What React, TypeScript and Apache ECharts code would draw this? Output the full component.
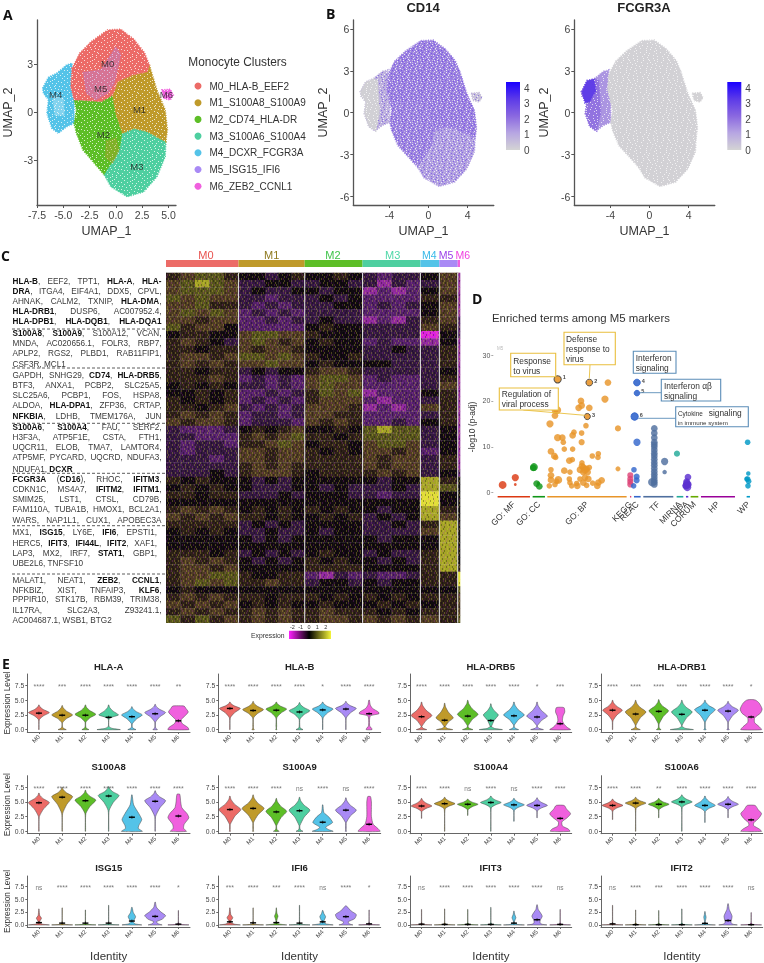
import React, { useEffect, useRef } from "react";
import * as echarts from "echarts";

const FONT = "Liberation Sans";

// ---------- cluster identity ----------
const clusterShort = ["M0", "M1", "M2", "M3", "M4", "M5", "M6"];
const clusterNames = ["M0_HLA-B_EEF2", "M1_S100A8_S100A9", "M2_CD74_HLA-DR", "M3_S100A6_S100A4", "M4_DCXR_FCGR3A", "M5_ISG15_IFI6", "M6_ZEB2_CCNL1"];
const clusterColors = ["#EC6B67", "#BF9A2A", "#5DBE27", "#4ECFA0", "#54C3E8", "#A98AF5", "#F060DE"];

// ---------- UMAP regions (in UMAP units) ----------
const regionM0 = [[-4.16, 2.75], [-3.44, 3.69], [-2.34, 4.42], [-0.78, 5.15], [0.47, 5.19], [1.72, 4.56], [2.72, 3.73], [3.19, 2.96], [2.97, 2.54], [1.56, 2.33], [0.16, 1.92], [-0.31, 1.08], [-1.41, 0.67], [-3.28, 0.77], [-3.97, 0.77], [-4.28, 1.6]];
const regionM1 = [[-0.31, 1.08], [0.16, 1.92], [1.56, 2.33], [2.97, 2.54], [3.19, 2.96], [3.9, 1.4], [4.69, 0.15], [4.9, -1.1], [4.75, -1.83], [2.97, -1.2], [1.72, -1], [0.63, -1.31], [0, -0.06]];
const regionM2 = [[-3.97, 0.77], [-1.41, 0.67], [-0.31, 1.08], [0, -0.06], [0.63, -1.31], [0.4, -2.3], [0, -2.8], [-1.09, -3.92], [-2.03, -3.19], [-3.13, -2.35], [-3.75, -1.31], [-3.97, -0.69], [-3.75, 0.15]];
const regionM3 = [[4.75, -1.83], [2.97, -1.2], [1.72, -1], [0.63, -1.31], [0.4, -2.3], [0, -2.8], [-1.09, -3.92], [-0.47, -4.65], [1.09, -5.27], [2.66, -4.96], [3.9, -4.02], [4.69, -2.77]];
const regionM4 = [[-6.97, 1.5], [-6.41, 2.19], [-5.63, 2.44], [-4.69, 2.96], [-4.16, 3.06], [-4.28, 1.6], [-3.97, 0.77], [-3.97, -0.69], [-4.69, -0.9], [-5.47, -1.31], [-6.09, -1], [-6.56, -0.06], [-6.41, 0.77], [-6.88, 1.19]];
const regionM5 = [[-3.1, 2.5], [-1.4, 2.65], [0, 4.1], [0.47, 3.6], [-0.16, 1.8], [-0.78, 1.2], [-1.9, 0.77], [-2.8, 1.2]];
const regionM6 = [[4.38, 1.4], [5.16, 1.44], [5.47, 1.08], [5.16, 0.77], [4.53, 0.88]];
const regionM4Left = [[-6.97, 1.5], [-6.41, 2.19], [-5.63, 2.44], [-5.2, 2.3], [-5, 0], [-5.4, -1.3], [-6.09, -1], [-6.56, -0.06], [-6.41, 0.77], [-6.88, 1.19]];
const regionM4Hot = [[-6.9, 1.5], [-6.4, 2.3], [-5.7, 2.4], [-5.5, 1.6], [-6.1, 0.8], [-6.6, 0.7]];
const regionM4Sparse = [[-6, 1], [-5, 0.9], [-4.9, -0.2], [-5.8, -0.2]];
const regionM1InM2 = [[-0.9, -1.8], [0, -1.6], [0.3, -2.4], [-0.3, -3.2], [-1, -2.8]];
const regions = [regionM0, regionM1, regionM2, regionM3, regionM4, regionM5, regionM6];
const paintOrder = [4, 2, 3, 1, 0, 5, 6];
const clusterLabelPos = [[-0.78, 3.08], [2.25, 0.15], [-1.19, -1.38], [2, -3.4], [-5.72, 1.1], [-1.44, 1.46], [4.8, 1.1]];

// ---------- feature-plot mean levels ----------
const cd14Levels = [1.75, 1.75, 1.7, 1.25, 0.9, 1.75, 0.5];
const cd14M4Left = 0.1;
const fcgr3aLevels = [0.08, 0.08, 0.08, 0.08, 1.4, 0.08, 0.05];
const fcgr3aM4Left = 2;
const fcgr3aHot = 3.2;
const featureStops = [[0, "#d4d4d4"], [0.25, "#b7a6e2"], [0.5, "#8a68e0"], [0.75, "#5c3ae8"], [1, "#1a00ff"]];

// ---------- small hand-drawn speckle tiles (texture of dense dots, not data) ----------
const tileUmap = [
  "....w.......w.......", "..........w.......w.", ".w.....w............", "............w...w...", "....w...............",
  ".........w.....w....", "..w...........w....w", "......w...w.........", "...............w....", ".w.........w......w.",
  "....w..w............", "..............w.....", ".........w.......w..", "..w...............w.", ".......w....w.......",
  "w...............w...", "....w.......w.......", "..........w.....w...", "..w....w............", "..............w.....",
];
const tileFeature = [
  "g..w.d...w..g.w...d.", "..d....g.....d...w..", ".w..g.....w.g....g..", "....d..w.d.....w...d", "g.....g.....w.d..g..",
  "..w.d....g.d....w...", ".g.....w.....g...d.w", "...d.g...d.w....g...", "w.....w......d.w...g", "..g.d...g.w....g....",
  ".d....w.....d...w.d.", "....g...d.g...w.....", "w.d...w......g...g.d", "...g.....w.d....w...", ".d..w.d.g.....d...g.",
  "g.......w..g.w....d.", "..w.d.g....d.....w..", ".d.....w.g....g.d...", "...w.g.....d.w....g.", "g.d...d.w......d.w..",
];
const tileHeat = [
  "y..k...y.p....y.k..y...p.k..y....p..y.k.", ".k.y.p....k.y...p.y..k....y.p.k.....y..p", "...p.y.k.y....k..y...p.y.k....y.k.p...y.",
  "y.k....p..y.k.p....k.y....p.y...k..y.p..", ".p..y.k.....p.y.k.y..p.k.y....p...y..k.y", "..y.k..p.y.k...y....k.p..y.k.y..p....y.k",
  "k...y.p..k..y.p.k.y....y.p..k...y.k.p...", ".y.p..k.y...k....p.y.k...k.y..p.k..y...p", "..k.y....p.y.k.y...k..p.y...k.y..p...k.y",
  "p..y.k.y...p...k.y.p.k....y.p..y.k.y....", ".k...p.y.k..y.p....y...k.p..y.k...p.y.k.", "y.p.k...y.p..k.y.k..p.y...k..p.y.k...y.p",
];

// ---------- heatmap ----------
const clusterCells = [218, 199, 174, 174, 57, 55, 7];
const heatLevelColors = ["#e020e0", "#8f2a9c", "#54216a", "#331840", "#100a10", "#2d2018", "#4f3b24", "#55531c", "#a5a426", "#e2e038"];
const heatRows = [
  "56775 44345 4454 3233 4 6 1", "67876 33443 3443 3132 3 6 1", "67776 34334 4344 1212 4 6 1", "76766 33233 3434 2222 5 5 1",
  "66755 32323 3344 2323 4 6 1", "67676 23232 3333 2222 4 6 1", "66566 22323 3433 1213 5 6 2", "75664 22222 4544 3333 6 5 2",
  "45544 67766 5444 3333 0 4 2", "56543 67656 4544 2322 1 4 1", "55455 65665 4444 3343 3 5 1", "56656 77676 5445 3333 3 5 1",
  "56565 66766 4544 4433 3 5 1", "55455 34344 5665 3333 3 4 1", "55565 23232 6776 2322 3 5 1", "45454 33232 6766 2222 3 6 1",
  "44545 22323 5767 1222 4 5 1", "54545 23232 5666 2122 3 5 1", "55456 32323 6665 1212 6 5 1", "56565 23323 6655 2222 3 5 1",
  "65665 23332 6565 2232 4 5 1", "32223 45456 4454 7877 3 4 1", "33222 56567 5545 7777 3 4 1", "32332 55676 4554 6776 3 4 1",
  "32333 66566 5454 6656 2 4 1", "33323 66566 5555 6566 3 5 1", "33333 56565 5555 6566 3 5 1", "33343 56665 4555 5656 3 4 2",
  "54544 43434 4444 4344 8 5 4", "45454 43334 4343 3343 8 7 4", "55455 33343 4443 3233 9 4 4", "44444 44444 4444 4444 9 4 4",
  "56565 45454 5454 4344 8 5 4", "65656 55454 4545 3434 8 6 4", "55555 34343 4444 3343 5 8 4", "45454 33433 4344 3333 6 8 4",
  "44444 43434 4444 4344 4 8 4", "44444 44444 4444 4444 4 8 4", "55545 34343 4544 3433 5 8 4", "56565 43434 5454 4343 5 8 4",
  "56656 44444 5555 4444 5 8 5", "56677 54455 2132 3223 5 5 9", "56767 55655 3443 4344 5 5 9", "45444 44444 4444 4444 4 4 7",
  "56565 55455 5454 5454 5 5 6", "65656 45454 4544 4545 4 5 6", "56565 56565 5655 5454 5 5 6", "75756 56565 5665 6565 6 5 7",
];

// ---------- gene lists ([...] = bold) ----------
const geneLines = [
  "[HLA-B], EEF2, TPT1, [HLA-A], [HLA-]", "[DRA], ITGA4, EIF4A1, DDX5, CPVL,", "AHNAK, CALM2, TXNIP, [HLA-DMA],", "[HLA-DRB1], DUSP6, AC007952.4,", "[HLA-DPB1], [HLA-DQB1], [HLA-DQA1]",
  "[S100A8], [S100A9], S100A12, VCAN,", "MNDA, AC020656.1, FOLR3, RBP7,", "APLP2, RGS2, PLBD1, RAB11FIP1,", "CSF3R, MCL1",
  "GAPDH, SNHG29, [CD74], [HLA-DRB5],", "BTF3, ANXA1, PCBP2, SLC25A5,", "SLC25A6, PCBP1, FOS, HSPA8,", "ALDOA, [HLA-DPA1], ZFP36, CRTAP,", "[NFKBIA], LDHB, TMEM176A, JUN",
  "[S100A6], [S100A4], FAU, SERF2,", "H3F3A, ATP5F1E, CSTA, FTH1,", "UQCR11, ELOB, TMA7, LAMTOR4,", "ATP5MF, PYCARD, UQCRD, NDUFA3,", "NDUFA1, [DCXR]",
  "[FCGR3A] ([CD16]), RHOC, [IFITM3],", "CDKN1C, MS4A7, [IFITM2], [IFITM1],", "SMIM25, LST1, CTSL, CD79B,", "FAM110A, TUBA1B, HMOX1, BCL2A1,", "WARS, NAP1L1, CUX1, APOBEC3A",
  "MX1, [ISG15], LY6E, [IFI6], EPSTI1,", "HERC5, [IFIT3], [IFI44L], [IFIT2], XAF1,", "LAP3, MX2, IRF7, [STAT1], GBP1,", "UBE2L6, TNFSF10",
  "MALAT1, NEAT1, [ZEB2], [CCNL1],", "NFKBIZ, XIST, TNFAIP3, [KLF6],", "PPPIR10, STK17B, RBM39, TRIM38,", "IL17RA, SLC2A3, Z93241.1,", "AC004687.1, WSB1, BTG2",
];
const geneLineY = [281.3, 291.3, 301.7, 311.3, 321.7, 333.3, 343.3, 353.7, 364, 375, 385.3, 395.3, 405.3, 416, 427.3, 437.3, 447.7, 457.7, 469, 479, 489.3, 499.3, 509.3, 520.7, 532.7, 543, 553, 563.3, 580, 590, 599.7, 610, 620.7];
const geneNatural = ["CSF3R, MCL1", "NDUFA1, [DCXR]", "UBE2L6, TNFSF10", "AC004687.1, WSB1, BTG2"];
const geneDashY = [329, 368, 423.3, 473.3, 525.7, 574];

// ---------- enrichment (term position along source axis, -log10 p-adj, dot size) ----------
const sourceNames = ["GO: MF", "GO: CC", "GO: BP", "KEGG", "REAC", "TF", "MIRNA", "HPA", "CORUM", "HP", "WP"];
const sourceSpan = [[83, 180], [188, 225], [232, 470], [480, 484], [492, 512], [520, 610], [620, 640], [648, 655], [662, 685], [693, 795], [830, 840]];
const sourceLabelAt = [131, 206, 351, 482, 502, 565, 630, 651, 673, 744, 835];
const sourceColors = ["#dc3912", "#109618", "#e8952a", "#dd4477", "#3366cc", "#4f6f9f", "#22aa99", "#5b2fd0", "#66aa00", "#990099", "#0099c6"];
const termsMF = [[98, 1.7, 7], [136, 3.3, 6.5], [136, 1.8, 2.5]];
const termsCC = [[192, 5.6, 7], [190, 5.4, 6], [200, 2, 6], [208, 1.4, 6], [205, 2.1, 3]];
const termsBP = [[414, 24, 6], [405, 20.4, 6.5], [333, 20, 6], [335, 19, 6], [326, 18.5, 6], [358, 18.5, 6], [262, 18, 7], [255, 18, 6], [255, 16.8, 6], [240, 15, 6.5], [348, 14.6, 5], [444, 14, 5.5], [312, 13.2, 5], [308, 12.5, 6], [335, 13, 5], [263, 12, 6.5], [277, 12, 6], [280, 11, 5], [335, 11, 5.5], [283, 9.5, 5], [308, 9.5, 5], [243, 9, 6], [253, 8, 6], [257, 7.7, 5], [385, 8.5, 5], [384, 7.7, 5], [367, 8, 5], [298, 7, 6], [307, 7.2, 5], [336, 6.5, 5], [336, 5.8, 6], [340, 5.5, 6], [330, 5, 6], [345, 5, 7], [350, 5.2, 6], [358, 5.5, 5], [444, 5.2, 4.5], [243, 5, 5], [283, 4.8, 6], [300, 4.5, 5], [340, 4.5, 6], [353, 4.5, 6], [243, 3.8, 6], [243, 2.8, 6], [265, 2.8, 7], [260, 2.5, 5], [298, 3, 5], [330, 3, 5], [345, 3.3, 6], [355, 3, 6], [395, 2.7, 6], [300, 2.2, 5], [320, 2, 5], [340, 2.2, 6], [368, 2.1, 5], [385, 2.2, 6], [238, 1.5, 5], [255, 1.8, 5], [305, 1.5, 5], [322, 1.5, 6], [350, 1.6, 5], [382, 1.5, 6]];
const termsKEGG = [[481, 3.8, 5.5], [481, 3, 5.5], [481, 2.4, 5.5], [481, 1.8, 5.5]];
const termsREAC = [[501, 11, 6.5], [492, 5, 5], [500, 3.5, 5.5], [500, 2.7, 5.5], [491, 1.5, 5]];
const termsTF = [[553, 14, 6], [553, 13, 6], [553, 12, 6], [553, 11, 6], [553, 10.5, 6], [553, 10, 6], [553, 9.3, 6], [553, 8.6, 6], [553, 8, 6], [553, 7.3, 6], [553, 6.6, 6], [553, 6, 6], [553, 5.3, 6], [553, 4.6, 6], [553, 4, 6], [553, 3.4, 6], [553, 2.8, 6], [553, 2.3, 6], [547, 2.3, 7.5], [553, 1.8, 6], [584, 6.8, 6.5], [584, 4.5, 4]];
const termsMIRNA = [[621, 8.5, 5.5]];
const termsHPA = [[654, 3.4, 6], [651, 2, 7], [650, 1.6, 7], [652, 1.2, 7], [647, 1.5, 6], [655, 1.8, 6], [650, 2.4, 6]];
const termsWP = [[833, 11, 5], [835, 4.2, 4], [833, 3, 5], [836, 2.5, 5], [830, 3, 4.5], [834, 1.5, 5]];
const termsBySource = [termsMF, termsCC, termsBP, termsKEGG, termsREAC, termsTF, termsMIRNA, termsHPA, [], [], termsWP];
const ringedTerms = [[263, 24.7, 6.5, 2, "1"], [358, 24, 6, 2, "2"], [352, 16.6, 5.5, 2, "3"], [501, 24, 6, 4, "4"], [501, 21.7, 5, 4, "5"], [494, 16.6, 6.5, 4, "6"]];

// ---------- violins: profile rows are [expression, half width as share of half a band] ----------
const body = (peak: number, w: number, top: number, foot: number, neck: number, low = 0) => [
  ...(foot > 0 ? [[0, foot], [0.22, foot * 0.3], [0.55, 0.03]] : [[low, 0.015]]),
  [neck, 0.04], [neck + 0.55 * (peak - neck), w * 0.45], [peak, w],
  [peak + 0.4 * (top - peak), w * 0.42], [peak + 0.75 * (top - peak), w * 0.1], [top, 0.015],
];
const thin = (top: number) => [[0, 0.9], [0.12, 0.12], [0.4, 0.02], [top, 0.01]];

const hlaA = [body(2.9, 0.9, 4.2, 0, 1.7), body(2.5, 0.9, 4.1, 0.35, 1.2), body(2.6, 0.9, 4.2, 0.3, 1.3), body(2.5, 0.85, 4.2, 1, 1.8), body(2.5, 0.9, 3.9, 0.35, 1), body(2.9, 0.9, 4.3, 0.2, 1.3), [[0, 0.9], [0.4, 0.8], [1, 0.35], [1.6, 0.2], [2.2, 0.5], [3, 0.85], [3.6, 0.65], [4, 0.5], [4.05, 0.3]]];
const hlaB = [body(3.6, 0.9, 4.7, 0, 2), body(3.4, 0.9, 4.8, 0.1, 2), body(3.5, 0.9, 4.7, 0.05, 2), body(3.2, 0.9, 4.6, 0.3, 1.8), body(3.5, 0.9, 4.7, 0, 2), body(3.6, 0.9, 4.8, 0, 2), [[0, 0.25], [0.3, 0.2], [0.6, 0.05], [2.3, 0.1], [2.7, 0.85], [3, 0.8], [3.6, 0.3], [4.2, 0.1], [5, 0.03]]];
const hlaDrb5 = [body(2.4, 0.9, 4.7, 0.45, 0.6), body(2, 0.75, 4.5, 0.7, 0.5), body(2.6, 0.9, 5, 0.45, 0.7), body(2.5, 0.65, 4.4, 1, 0.5), body(2.5, 0.9, 4.7, 0.4, 0.8), body(2.3, 0.9, 4.7, 0.55, 0.7), [[0, 0.9], [0.4, 0.6], [0.9, 0.35], [1.5, 0.2], [2.3, 0.25], [3, 0.4], [3.7, 0.35], [3.8, 0.2]]];
const hlaDrb1 = [body(3.3, 0.85, 5, 0, 1.5), body(3, 0.9, 5, 0.4, 0.8), body(3.2, 0.85, 5.1, 0.2, 1), body(3, 0.9, 5, 1, 0.8), body(3.4, 0.9, 5, 0.1, 1.3), body(3.3, 0.9, 4.8, 0.1, 1.3), [[0, 0.9], [0.5, 0.7], [1.2, 0.3], [2, 0.3], [2.8, 0.8], [3.5, 0.95], [4.5, 0.7], [5, 0.4], [5.1, 0.15]]];
const s100a8 = [body(4.9, 0.9, 6.5, 0, 2.5), body(5.9, 0.9, 7.5, 0, 3), body(5.3, 0.9, 7, 0, 3), body(6.1, 0.9, 7.6, 0, 3.5), [[0, 0.9], [0.5, 0.55], [1, 0.6], [2, 0.85], [3, 0.6], [4.5, 0.15], [6.2, 0.02]], body(5.2, 0.9, 6.9, 0, 2.5), [[0, 0.7], [0.5, 0.45], [1.2, 0.5], [2.3, 0.9], [3, 0.75], [4, 0.3], [5, 0.2], [6.3, 0.12]]];
const s100a9 = [body(3.7, 0.95, 6, 0.05, 1.2), body(3.9, 0.95, 6.2, 0.05, 1.5), body(3.4, 0.9, 5.6, 0.25, 1), body(3.6, 0.9, 5.8, 0.3, 1), [[0, 0.9], [0.3, 0.5], [0.7, 0.25], [1.5, 0.85], [2.5, 0.5], [3.2, 0.1], [4.5, 0.02]], body(3.6, 0.9, 5.7, 0.05, 1.5), [[0, 0.95], [0.5, 0.75], [1.2, 0.35], [2.5, 0.2], [4, 0.2], [5, 0.2], [5.9, 0.12]]];
const s100a4 = [body(4.3, 0.9, 5.6, 0, 3.4, 2.2), body(4.7, 0.9, 5.8, 0, 3.8), body(4.6, 0.9, 5.5, 0, 3.7, 2.7), body(4.9, 0.9, 6, 0, 4), body(4.5, 0.9, 5.6, 0, 3.6, 1.7), body(4.4, 0.9, 5.7, 0, 3.5, 2.3), [[0, 0.85], [0.4, 0.7], [0.9, 0.2], [1.6, 0.15], [2.3, 0.6], [3, 0.9], [3.8, 0.55], [4.4, 0.35]]];
const s100a6 = [body(4.4, 0.9, 5.5, 0, 3.5, 2), body(4.8, 0.9, 5.8, 0, 3.9), body(4.6, 0.9, 5.6, 0, 3.7, 2.3), body(5, 0.9, 6.2, 0, 4.1), body(4.4, 0.9, 6, 0, 3.4, 1.5), body(4.6, 0.9, 5.9, 0, 3.7, 2.3), [[0, 0.9], [0.4, 0.7], [1, 0.2], [1.5, 0.25], [2.2, 0.65], [3, 0.9], [3.7, 0.6], [4.4, 0.35]]];
const isg15 = [[[0, 0.9], [0.15, 0.3], [0.4, 0.05], [0.8, 0.1], [1.3, 0.22], [1.8, 0.07], [3.1, 0.01]], thin(3.3), thin(2.9), thin(3.8), [[0, 0.85], [0.2, 0.3], [0.6, 0.1], [1, 0.2], [1.6, 0.32], [2.4, 0.12], [3.4, 0.02]], [[0, 0.6], [0.2, 0.3], [0.6, 0.1], [1.1, 0.6], [1.8, 0.9], [2.5, 0.5], [3.4, 0.12], [4.4, 0.02]], thin(2.8)];
const ifi6 = [[[0, 0.9], [0.15, 0.4], [0.5, 0.05], [0.9, 0.12], [1.4, 0.25], [2, 0.08], [3.3, 0.01]], thin(3.3), [[0, 0.9], [0.2, 0.2], [0.6, 0.03], [1.2, 0.08], [1.7, 0.15], [2.3, 0.05], [3.3, 0.01]], thin(3.8), [[0, 0.9], [0.2, 0.3], [0.6, 0.08], [1, 0.15], [1.6, 0.25], [2.2, 0.1], [2.8, 0.02]], [[0, 0.6], [0.2, 0.3], [0.6, 0.2], [1.2, 0.75], [2, 0.9], [2.7, 0.45], [3.7, 0.03]], thin(2.9)];
const ifit3 = [thin(3), thin(3.1), thin(3), thin(3.4), [[0, 0.9], [0.1, 0.3], [0.5, 0.03], [1, 0.1], [1.4, 0.17], [2, 0.07], [2.7, 0.01]], [[0, 0.85], [0.15, 0.4], [0.5, 0.25], [1, 0.3], [1.7, 0.45], [2.5, 0.25], [3, 0.1], [3.9, 0.02]], thin(3)];
const ifit2 = [thin(3.8), thin(2.9), thin(2.8), thin(3.1), [[0, 0.9], [0.1, 0.3], [0.5, 0.03], [1, 0.06], [1.5, 0.1], [2, 0.05], [2.6, 0.01]], [[0, 0.8], [0.15, 0.4], [0.5, 0.25], [1, 0.3], [1.7, 0.35], [2.5, 0.2], [3, 0.1], [4.1, 0.02]], thin(2.4)];

const violinGenes = ["HLA-A", "HLA-B", "HLA-DRB5", "HLA-DRB1", "S100A8", "S100A9", "S100A4", "S100A6", "ISG15", "IFI6", "IFIT3", "IFIT2"];
const violinProfiles = [hlaA, hlaB, hlaDrb5, hlaDrb1, s100a8, s100a9, s100a4, s100a6, isg15, ifi6, ifit3, ifit2];
const violinMedians = [
  [2.8, 2.45, 2.45, 2.1, 2.2, 2.7, 1.5], [3.6, 3.25, 3.3, 3, 3.35, 3.5, 2.7], [2.2, 1.6, 2.3, 1.55, 2.35, 2.15, 1], [3.3, 2.65, 3.1, 2.6, 3.3, 3.15, 2.15],
  [4.85, 5.8, 5.2, 6, 2.4, 5.1, 2.6], [3.7, 3.9, 3.3, 3.5, 1.55, 3.6, 1.2], [4.3, 4.7, 4.6, 4.9, 4.5, 4.4, 2.2], [4.4, 4.8, 4.6, 5, 4.4, 4.6, 1.95],
  [0.45, 0.35, 0.35, 0.35, 0.75, 1.65, 0.15], [0.6, 0.4, 0.45, 0.35, 0.6, 1.6, 0.2], [0.15, 0.1, 0.1, 0.1, 0.35, 1, 0.1], [0.2, 0.05, 0.05, 0.05, 0.3, 0.85, 0.05],
];
const violinSig = [
  ["****", "***", "****", "****", "****", "****", "**"], ["****", "****", "****", "****", "*", "****", "****"], ["****", "****", "****", "****", "****", "*", "***"], ["****", "****", "****", "****", "****", "****", "*"],
  ["****", "****", "****", "****", "****", "****", "****"], ["****", "****", "****", "ns", "****", "ns", "****"], ["****", "****", "ns", "****", "ns", "****", "****"], ["****", "****", "**", "****", "****", "****", "****"],
  ["ns", "****", "****", "****", "****", "****", "*"], ["***", "****", "***", "****", "ns", "****", "*"], ["ns", "****", "****", "****", "****", "****", "ns"], ["ns", "****", "***", "****", "****", "****", "ns"],
];

// ---------- helpers ----------
const hexRgb = (h: string) => [1, 3, 5].map((i) => parseInt(h.slice(i, i + 2), 16));
const featureColor = (level: number) => {
  const t = Math.max(0, Math.min(1, level / 4.4));
  for (let i = 1; i < featureStops.length; i++) {
    const [t1, c1] = featureStops[i] as [number, string];
    const [t0, c0] = featureStops[i - 1] as [number, string];
    if (t <= t1) {
      const f = (t - t0) / (t1 - t0);
      const a = hexRgb(c0), b = hexRgb(c1);
      return `rgb(${a.map((v, k) => Math.round(v + (b[k] - v) * f)).join(",")})`;
    }
  }
  return "#1a00ff";
};
const makeTile = (rows: string[], palette: Record<string, string>, cw: number, ch: number) => {
  const c = document.createElement("canvas");
  c.width = rows[0].length * cw;
  c.height = rows.length * ch;
  const g = c.getContext("2d")!;
  rows.forEach((r, y) => r.split("").forEach((s, x) => {
    if (palette[s]) {
      g.fillStyle = palette[s];
      g.fillRect(x * cw, y * ch, cw, ch);
    }
  }));
  return { image: c, repeat: "repeat" };
};

const App = () => {
  const ref = useRef<HTMLDivElement>(null);
  useEffect(() => {
    const chart = echarts.init(ref.current!, undefined, { renderer: "svg" });
    const patternUmap = makeTile(tileUmap, { w: "rgba(255,255,255,.75)" }, 1, 1);
    const patternCd14 = makeTile(tileFeature, { w: "rgba(255,255,255,.8)", g: "rgba(205,205,215,.8)", d: "rgba(80,45,225,.45)" }, 1, 1);
    const patternFcgr = makeTile(tileFeature, { w: "rgba(255,255,255,.7)" }, 1, 1);
    const patternHeat = makeTile(tileHeat, { y: "rgba(215,205,60,.3)", p: "rgba(200,50,210,.22)", k: "rgba(0,0,0,.3)" }, 1, 2);

    const grid: any[] = [], xAxis: any[] = [], yAxis: any[] = [], series: any[] = [], graphics: any[] = [];
    const addGrid = (l: number, t: number, w: number, h: number, x: any, y: any) => {
      grid.push({ left: l, top: t, width: w, height: h });
      const i = grid.length - 1;
      xAxis.push({ gridIndex: i, splitLine: { show: false }, ...x });
      yAxis.push({ gridIndex: i, splitLine: { show: false }, ...y });
      return i;
    };
    const hidden = (min: number, max: number, extra: any = {}) => ({ type: "value", min, max, show: false, ...extra });
    const text = (t: string, x: number, y: number, o: any = {}) =>
      graphics.push({
        type: "text", x, y, silent: true, rotation: o.rotation || 0,
        style: { text: t, fontFamily: o.family || FONT, fontSize: o.size || 9, fontWeight: o.weight || "normal", fill: o.fill || "#333", align: o.align || "left", verticalAlign: "middle" },
      });
    const polySeries = (name: string, pts: number[][], fill: string, g: number, opacity = 1, pattern?: any) => ({
      name, type: "custom", coordinateSystem: "cartesian2d", xAxisIndex: g, yAxisIndex: g, data: pts, silent: true, z: 2,
      itemStyle: { color: fill }, encode: { x: 0, y: 1 }, clip: false,
      renderItem: (p: any, api: any) => {
        if (p.dataIndex !== 0) return null;
        const points = pts.map((q) => api.coord(q));
        const children: any[] = [{ type: "polygon", shape: { points }, style: { fill, opacity, stroke: fill, lineWidth: 1.6, lineDash: [1, 1.4] } }];
        if (pattern) children.push({ type: "polygon", shape: { points }, style: { fill: pattern } });
        return { type: "group", children };
      },
    });
    const umapAxis = (min: number, max: number, ticks: number[], gap: number, isX?: boolean) => ({
      type: "value", min, max, name: "UMAP_" + (isX ? 1 : 2), nameLocation: "middle", nameGap: gap,
      nameTextStyle: { fontFamily: FONT, fontSize: 12.5, color: "#333" },
      axisLine: { show: true, onZero: false, lineStyle: { color: "#555", width: 1.3 } },
      axisTick: { show: true, length: 3, lineStyle: { color: "#555" }, customValues: ticks },
      axisLabel: { fontFamily: FONT, fontSize: 10.5, color: "#444", margin: 4, customValues: ticks, formatter: (v: number) => String(v) },
    });

    // ----- A -----
    const gA = addGrid(35, 20, 141, 185, umapAxis(-7.5, 5.72, [-7.5, -5, -2.5, 0, 2.5, 5], 19, true), umapAxis(-5.79, 5.77, [-3, 0, 3], 23));
    xAxis[gA].axisLabel.formatter = (v: number) => v.toFixed(1);
    paintOrder.forEach((i) => {
      if (i === 5) return;
      series.push(polySeries(clusterNames[i], regions[i], clusterColors[i], gA, 1, patternUmap));
    });
    series.push(polySeries("M1 cells inside M2", regionM1InM2, clusterColors[1], gA, 0.35));
    series.push(polySeries("M4 sparse", regionM4Sparse, "#ffffff", gA, 0.28));
    series.push(polySeries(clusterNames[5], regions[5], clusterColors[5], gA, 0.32));
    series.push({
      type: "scatter", xAxisIndex: gA, yAxisIndex: gA, symbolSize: 0, silent: true, z: 5,
      data: clusterLabelPos.map((p, i) => ({ value: p, label: { formatter: clusterShort[i] } })),
      label: { show: true, position: "inside", fontFamily: FONT, fontSize: 9.5, color: "#222" },
    });

    // ----- B -----
    const featurePanel = (left: number, levels: number[], m4Left: number, pattern: any) => {
      const g = addGrid(left, 20, 140.5, 185, umapAxis(-7.69, 6.67, [-4, 0, 4], 19, true), umapAxis(-6.6, 6.63, [-6, -3, 0, 3, 6], 24));
      paintOrder.forEach((i) => {
        if (i === 5) return;
        series.push(polySeries("f" + left + i, regions[i], featureColor(levels[i]), g, 1, pattern));
      });
      series.push(polySeries("f" + left + "L", regionM4Left, featureColor(m4Left), g, 1, patternFcgr));
      return g;
    };
    featurePanel(353.3, cd14Levels, cd14M4Left, patternCd14);
    const gF = featurePanel(574.3, fcgr3aLevels, fcgr3aM4Left, patternFcgr);
    series.push(polySeries("fHot", regionM4Hot, featureColor(fcgr3aHot), gF));

    const colorbar = (left: number) => {
      const g = addGrid(left, 82, 14, 68, hidden(0, 1), {
        type: "value", min: 0, max: 4.4, position: "right",
        axisLine: { show: false }, axisTick: { show: true, inside: true, length: 3, lineStyle: { color: "#fff" }, customValues: [0, 1, 2, 3, 4] },
        axisLabel: { fontFamily: FONT, fontSize: 10, color: "#444", margin: 4, customValues: [0, 1, 2, 3, 4] },
      });
      series.push({
        type: "custom", xAxisIndex: g, yAxisIndex: g, data: [[0, 0]], silent: true,
        renderItem: (p: any) => ({
          type: "rect", shape: { x: p.coordSys.x, y: p.coordSys.y, width: p.coordSys.width, height: p.coordSys.height },
          style: { fill: new echarts.graphic.LinearGradient(0, 1, 0, 0, featureStops.map(([offset, color]) => ({ offset, color }))) },
        }),
      });
    };
    colorbar(506);
    colorbar(727.3);

    // ----- C heatmap -----
    const cumCells = clusterCells.reduce((a: number[], c) => [...a, a[a.length - 1] + c], [0]);
    const totalCells = cumCells[cumCells.length - 1];
    const heatData: number[][] = [];
    heatRows.forEach((row, r) => {
      row.split(" ").forEach((tok, c) => {
        const w = clusterCells[c] / tok.length;
        tok.split("").forEach((d, k) => heatData.push([cumCells[c] + w * k, cumCells[c] + w * (k + 1), r, Number(d)]));
      });
    });
    const gH = addGrid(166, 272.7, 294, 350, hidden(0, totalCells), hidden(0, heatRows.length, { inverse: true }));
    series.push({
      type: "custom", xAxisIndex: gH, yAxisIndex: gH, data: heatData, silent: true, encode: { x: [0, 1], y: 2 },
      renderItem: (_: any, api: any) => {
        const a = api.coord([api.value(0), api.value(2)]);
        const b = api.coord([api.value(1), api.value(2) + 1]);
        return { type: "rect", shape: { x: a[0], y: a[1], width: b[0] - a[0] + 0.3, height: b[1] - a[1] + 0.3 }, style: { fill: heatLevelColors[api.value(3)] } };
      },
    });
    series.push({
      type: "custom", xAxisIndex: gH, yAxisIndex: gH, data: [[0, 0]], silent: true, z: 3,
      renderItem: (p: any) => ({
        type: "rect", shape: { x: p.coordSys.x, y: p.coordSys.y, width: p.coordSys.width, height: p.coordSys.height },
        style: { fill: patternHeat },
      }),
    });
    series.push({
      type: "custom", xAxisIndex: gH, yAxisIndex: gH, data: cumCells.slice(1, -1).map((c) => [c]), silent: true, z: 4,
      renderItem: (_: any, api: any) => {
        const a = api.coord([api.value(0), 0]);
        const b = api.coord([api.value(0), heatRows.length]);
        return { type: "line", shape: { x1: a[0], y1: a[1], x2: b[0], y2: b[1] }, style: { stroke: "#d9d9d9", lineWidth: 1.1 } };
      },
    });
    const gBar = addGrid(166, 260, 294, 7, hidden(0, totalCells), hidden(0, 1));
    series.push({
      type: "custom", xAxisIndex: gBar, yAxisIndex: gBar, data: clusterCells.map((_, i) => [cumCells[i], cumCells[i + 1], i]), silent: true, encode: { x: [0, 1] },
      renderItem: (_: any, api: any) => {
        const a = api.coord([api.value(0), 1]);
        const b = api.coord([api.value(1), 0]);
        return { type: "rect", shape: { x: a[0], y: a[1], width: b[0] - a[0], height: b[1] - a[1] }, style: { fill: clusterColors[api.value(2)] } };
      },
    });
    [206, 271.7, 333, 392.7, 429.3, 446, 462.7].forEach((x, i) =>
      text(clusterShort[i], x, 254.7, { align: "center", size: i < 4 ? 11 : 10.5, fill: ["#e8524f", "#8f7a20", "#3fc44a", "#4fd8a8", "#35b8e8", "#9a3fe8", "#f03fe0"][i] })
    );
    // expression key
    const gKey = addGrid(289, 630.7, 42, 8.3, {
      type: "value", min: -2.4, max: 2.63, position: "top", axisLine: { show: false }, axisTick: { show: false },
      axisLabel: { fontFamily: FONT, fontSize: 5.5, color: "#333", margin: 1, customValues: [-2, -1, 0, 1, 2] },
    }, hidden(0, 1));
    series.push({
      type: "custom", xAxisIndex: gKey, yAxisIndex: gKey, data: [[0, 0]], silent: true,
      renderItem: (p: any) => ({
        type: "rect", shape: { x: p.coordSys.x, y: p.coordSys.y, width: p.coordSys.width, height: p.coordSys.height },
        style: { fill: new echarts.graphic.LinearGradient(0, 0, 1, 0, [{ offset: 0, color: "#ff20ff" }, { offset: 0.48, color: "#000" }, { offset: 1, color: "#f5f53a" }]) },
      }),
    });
    text("Expression", 251, 635, { size: 6.8 });

    // gene text, justified
    const cv = document.createElement("canvas").getContext("2d")!;
    const measure = (t: string, bold: boolean, size: number) => {
      cv.font = `${bold ? "bold " : ""}${size}px "${FONT}"`;
      return cv.measureText(t).width;
    };
    geneLines.forEach((line, li) => {
      const size = 8.2;
      const right = li >= 24 && li < 28 ? 157 : 161.5;
      const left = 12.5;
      const words = line.split(" ").map((w) =>
        w.split(/(\[[^\]]*\])/).filter(Boolean).map((s) => (s[0] === "[" ? { t: s.slice(1, -1), b: true } : { t: s, b: false }))
      );
      const widths = words.map((segs) => segs.reduce((a, s) => a + measure(s.t, s.b, size), 0));
      const natural = widths.reduce((a, b) => a + b, 0);
      const free = geneNatural.includes(line) || words.length < 2 ? size * 0.28 : (right - left - natural) / (words.length - 1);
      let x = left;
      words.forEach((segs, wi) => {
        let sx = x;
        segs.forEach((s) => {
          text(s.t, sx, geneLineY[li], { size, weight: s.b ? "bold" : "normal", fill: s.b ? "#111" : "#3a3a3a" });
          sx += measure(s.t, s.b, size);
        });
        x += widths[wi] + free;
      });
    });
    geneDashY.forEach((y) =>
      graphics.push({ type: "line", silent: true, shape: { x1: 12, y1: y, x2: 165, y2: y }, style: { stroke: "#333", lineWidth: 0.8, lineDash: [3, 2] } })
    );

    // ----- D -----
    const gD = addGrid(493.3, 355, 260, 143.7, {
      type: "value", min: 70, max: 850, axisLine: { show: false, onZero: false }, axisTick: { show: false },
      axisLabel: { fontFamily: FONT, fontSize: 8.5, color: "#333", rotate: 45, margin: 4, customValues: sourceLabelAt, formatter: (v: number) => sourceNames[sourceLabelAt.indexOf(v)] },
    }, {
      type: "value", min: -1.3, max: 30, name: "-log10 (p-adj)", nameLocation: "middle", nameGap: 17,
      nameTextStyle: { fontFamily: FONT, fontSize: 8.5, color: "#333" },
      axisLine: { show: false }, axisTick: { show: true, length: 2, lineStyle: { color: "#aaa" }, customValues: [0, 10, 20, 30] },
      axisLabel: { fontFamily: FONT, fontSize: 7, color: "#555", margin: 3, customValues: [0, 10, 20, 30] },
    });
    series.push({
      type: "custom", xAxisIndex: gD, yAxisIndex: gD, data: sourceSpan.map((s, i) => [s[0], s[1], i]), silent: true, encode: { x: [0, 1] },
      renderItem: (_: any, api: any) => {
        const a = api.coord([api.value(0), -0.87]);
        const b = api.coord([api.value(1), -0.87]);
        return { type: "rect", shape: { x: a[0], y: a[1] - 0.8, width: b[0] - a[0], height: 1.6 }, style: { fill: sourceColors[api.value(2)] } };
      },
    });
    termsBySource.forEach((terms, i) => {
      if (!terms.length) return;
      series.push({
        type: "scatter", xAxisIndex: gD, yAxisIndex: gD, data: terms, silent: true,
        symbolSize: (v: number[]) => v[2] * 1.12, itemStyle: { color: sourceColors[i], opacity: 0.82 },
      });
    });
    series.push({
      type: "scatter", xAxisIndex: gD, yAxisIndex: gD, silent: true, z: 6,
      data: ringedTerms.map((t) => ({
        value: t.slice(0, 3), symbolSize: (t[2] as number) * 1.12,
        itemStyle: { color: sourceColors[t[3] as number], borderColor: t[3] === 2 ? "#444" : sourceColors[t[3] as number], borderWidth: 1, opacity: 0.9 },
        label: { show: true, formatter: t[4], position: "right", distance: 1, offset: [0, -2], fontFamily: FONT, fontSize: 5.5, fontWeight: "bold", color: "#333" },
      })),
    });
    text("Enriched terms among M5 markers", 492, 318, { size: 11.4, fill: "#333" });
    text("M5", 497, 348, { size: 4.5, fill: "#bbb" });
    const box = (x: number, y: number, x2: number, y2: number, c: string) =>
      graphics.push({ type: "rect", silent: true, z: 8, shape: { x, y, width: x2 - x, height: y2 - y }, style: { fill: "#fff", stroke: c, lineWidth: 1.1 } });
    const conn = (x1: number, y1: number, x2: number, y2: number, c: string) =>
      graphics.push({ type: "line", silent: true, z: 7, shape: { x1, y1, x2, y2 }, style: { stroke: c, lineWidth: 0.9 } });
    const Y = "#e9bf3e", BL = "#5b8db8";
    conn(590, 365, 589.3, 378.3, Y); conn(523.3, 410, 585, 415.3, Y); conn(640, 392.7, 661.3, 392.7, BL); conn(638.3, 418.3, 675.7, 418.3, BL);
    box(510.7, 353.3, 555.7, 376.7, Y); box(564, 332.3, 615.3, 364.7, Y); box(499.3, 388, 558.3, 410, Y);
    box(633.3, 351.3, 676, 373.3, BL); box(661.3, 379.3, 720.7, 401, BL); box(675.7, 406.7, 748.3, 426.7, BL);
    const boxed = (t: string, x: number, y: number, size = 8.4) =>
      graphics.push({ type: "text", silent: true, z: 9, x, y, style: { text: t, fontFamily: FONT, fontSize: size, fill: "#333", verticalAlign: "middle" } });
    boxed("Response", 513.3, 360.7); boxed("to virus", 513.3, 370.7);
    boxed("Defense", 566, 338.7); boxed("response to", 566, 349); boxed("virus", 566, 358.7);
    boxed("Regulation of", 501.7, 394.3); boxed("viral process", 501.7, 404.3);
    boxed("Interferon", 635.7, 358); boxed("signaling", 635.7, 368);
    boxed("Interferon αβ", 664, 386); boxed("signaling", 664, 396);
    boxed("Cytokine", 678, 413.3, 6.4); boxed("signaling", 708.7, 412.7, 8.4); boxed("in immune system", 678, 422, 6.2);

    // ----- E -----
    const colX = [[27.3, 162.7], [218.3, 162.4], [410, 161.7], [601, 161.7]];
    const rowY = [674, 775.7, 876];
    const titleX = [108.7, 299.7, 490.7, 681.7];
    const titleY = [666.7, 766.7, 867.7];
    violinGenes.forEach((gene, gi) => {
      const r = Math.floor(gi / 4), c = gi % 4;
      const g = addGrid(colX[c][0], rowY[r], colX[c][1], 58, {
        type: "category", data: clusterShort, name: r === 2 ? "Identity" : "", nameLocation: "middle", nameGap: 23,
        nameTextStyle: { fontFamily: FONT, fontSize: 11.5, color: "#333" },
        axisLine: { show: true, onZero: false, lineStyle: { color: "#666", width: 1 } },
        axisTick: { show: true, length: 2, alignWithLabel: true, lineStyle: { color: "#666" } },
        axisLabel: { interval: 0, rotate: 45, fontFamily: FONT, fontSize: 6, color: "#444", margin: 4 },
      }, {
        type: "value", min: -0.4, max: 9.45, name: c === 0 ? "Expression Level" : "", nameLocation: "middle", nameGap: 14,
        nameTextStyle: { fontFamily: FONT, fontSize: 8.3, color: "#333" },
        axisLine: { show: true, onZero: false, lineStyle: { color: "#666", width: 1 } },
        axisTick: { show: true, length: 2, lineStyle: { color: "#666" }, customValues: [0, 2.5, 5, 7.5] },
        axisLabel: { fontFamily: FONT, fontSize: 6.8, color: "#444", margin: 3, customValues: [0, 2.5, 5, 7.5], formatter: (v: number) => v.toFixed(1) },
      });
      series.push({
        type: "custom", xAxisIndex: g, yAxisIndex: g, silent: true, clip: false,
        data: violinMedians[gi].map((m, i) => [i, m]), encode: { x: 0, y: 1 },
        renderItem: (_: any, api: any) => {
          const i = api.value(0), m = api.value(1);
          const half = api.size([1, 0])[0] / 2;
          const prof = violinProfiles[gi][i] as number[][];
          const cx = api.coord([i, 0])[0];
          const leftSide = prof.map(([y, w]) => [cx - w * half, api.coord([i, y])[1]]);
          const rightSide = prof.slice().reverse().map(([y, w]) => [cx + w * half, api.coord([i, y])[1]]);
          const my = api.coord([i, m])[1];
          return {
            type: "group",
            children: [
              { type: "polygon", shape: { points: [...leftSide, ...rightSide], smooth: 0.2 }, style: { fill: clusterColors[i], stroke: "#444", lineWidth: 0.5 } },
              { type: "line", shape: { x1: cx - 3, y1: my, x2: cx + 3, y2: my }, style: { stroke: "#000", lineWidth: 1.4 } },
              { type: "line", shape: { x1: cx, y1: my - 1.5, x2: cx, y2: my + 1.5 }, style: { stroke: "#000", lineWidth: 0.7 } },
            ],
          };
        },
      });
      series.push({
        type: "scatter", xAxisIndex: g, yAxisIndex: g, symbolSize: 0, silent: true,
        data: violinSig[gi].map((s, i) => ({
          value: [i, s === "ns" ? 7.2 : 7.3],
          label: { formatter: s, fontSize: s === "ns" ? 6.5 : 7, color: "#555", fontFamily: FONT },
        })),
        label: { show: true, position: "inside", fontFamily: FONT, color: "#555" },
      });
      text(gene, titleX[c], titleY[r], { size: 9.5, weight: "bold", align: "center", fill: "#222" });
    });

    // ----- panel letters, panel titles, legend title -----
    text("A", 3, 14, { size: 14, weight: "bold", fill: "#111", family: "Open Sans" });
    text("B", 326, 13.5, { size: 14, weight: "bold", fill: "#111", family: "Open Sans" });
    text("C", 1, 255, { size: 14, weight: "bold", fill: "#111", family: "Open Sans" });
    text("D", 472, 298, { size: 14, weight: "bold", fill: "#111", family: "Open Sans" });
    text("E", 2, 663, { size: 14, weight: "bold", fill: "#111", family: "Open Sans" });
    text("CD14", 423, 7, { size: 13, weight: "bold", align: "center", fill: "#222" });
    text("FCGR3A", 644, 7, { size: 13, weight: "bold", align: "center", fill: "#222" });
    text("Monocyte Clusters", 188.3, 62.3, { size: 11.9, fill: "#333" });

    chart.setOption({
      animation: false,
      backgroundColor: "#fff",
      textStyle: { fontFamily: FONT },
      grid, xAxis, yAxis, series,
      legend: {
        orient: "vertical", left: 189.5, top: 76, data: clusterNames, icon: "circle", selectedMode: false,
        itemWidth: 13, itemHeight: 7, itemGap: 6.7, textStyle: { fontFamily: FONT, fontSize: 10, color: "#333" },
      },
      graphic: { elements: graphics },
    });
    return () => chart.dispose();
  }, []);
  return <div ref={ref} style={{ position: "absolute", left: 0, top: 0, width: 764, height: 963, filter: "blur(0.35px)" }} />;
};

export default App;
